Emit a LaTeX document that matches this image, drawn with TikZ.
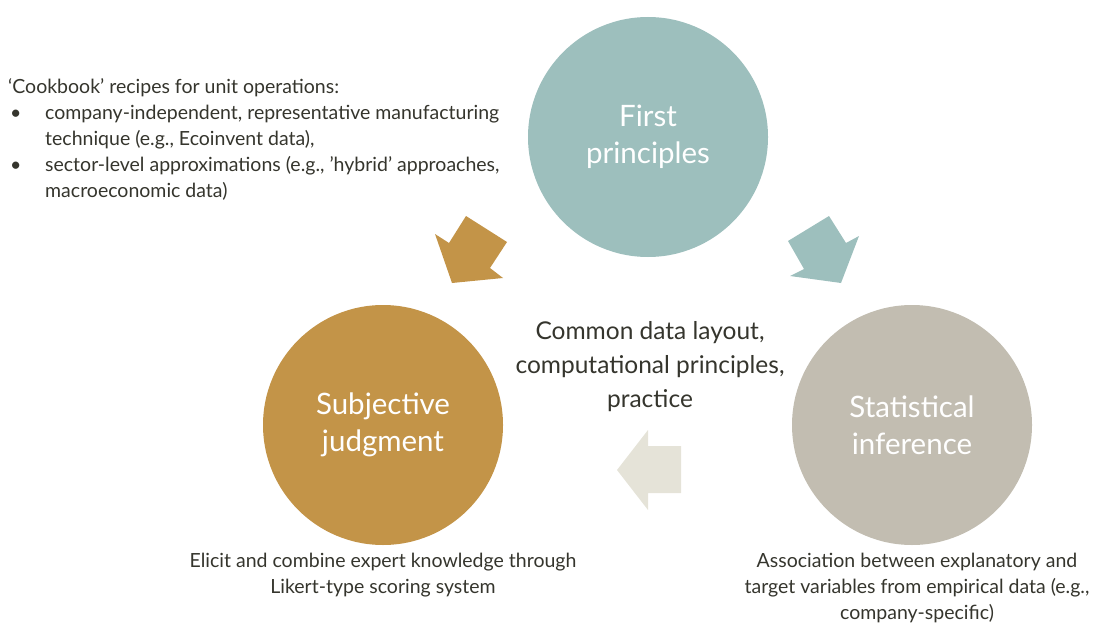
\documentclass[tikz,border=0pt]{standalone}
\usepackage{fontspec}
\setmainfont{Lato}
\usepackage{tikz}
\usetikzlibrary{positioning}

\definecolor{fpteal}{HTML}{9DBFBD}
\definecolor{sjtan}{HTML}{C39448}
\definecolor{sigrey}{HTML}{C2BDB1}
\definecolor{backarrow}{HTML}{E5E3D8}
\definecolor{textdark}{HTML}{35352D}

\begin{document}
\begin{tikzpicture}
          [x=1pt, y=-1pt,
           every node/.style={inner sep=0pt, text=textdark},
           bigcircle/.style={circle, minimum size=240pt, text=white, align=center,
             font=\fontsize{29.5}{37}\selectfont},
           note/.style={align=center, font=\fontsize{19.5}{26}\selectfont}]
          \useasboundingbox (0,0) rectangle (1105,623);

          \node (fp) [bigcircle, fill=fpteal] at (648,137) {First\\principles};
          \node (sj) [bigcircle, fill=sjtan] at (383,425) {Subjective\\judgment};
          \node (si) [bigcircle, fill=sigrey] at (912,425) {Statistical\\inference};

          % block arrows
          \fill[sjtan] (435,234) -- (449,243) -- (466,216) -- (507,242) -- (490,268)
                -- (503,278) -- (452,283) -- cycle;
          \fill[fpteal] (788,241) -- (829,216) -- (846,243) -- (859,236) -- (841,283)
                -- (790,276) -- (804,269) -- cycle;
          \fill[backarrow] (617,470) -- (648,430) -- (648,446) -- (681,446) -- (681,493)
                -- (648,493) -- (648,510) -- cycle;

          \node (common) [align=center, font=\fontsize{24.5}{34}\selectfont] at (650,367)
                {Common data layout,\\computational principles,\\practice};

          \node (sjtxt) [note, below = 8pt of sj] {Elicit and combine expert knowledge through\\Likert-type scoring system};
          \node (sitxt) [note, below = 8pt of si, xshift=5pt] {Association between explanatory and\\target variables from empirical data (e.g.,\\company-specific)};

          \node (fptxt) [anchor=north west, font=\fontsize{19.5}{26}\selectfont] at (8,75)
                {\begin{tabular}{@{}p{37pt}@{}l@{}}
                 \multicolumn{2}{@{}l@{}}{‘Cookbook’ recipes for unit operations:}\\
                 \hspace{2pt}\textbullet & company-independent, representative manufacturing\\
                 & technique (e.g., Ecoinvent data),\\
                 \hspace{2pt}\textbullet & sector-level approximations (e.g., ’hybrid’ approaches,\\
                 & macroeconomic data)
                 \end{tabular}};
        \end{tikzpicture}
\end{document}
